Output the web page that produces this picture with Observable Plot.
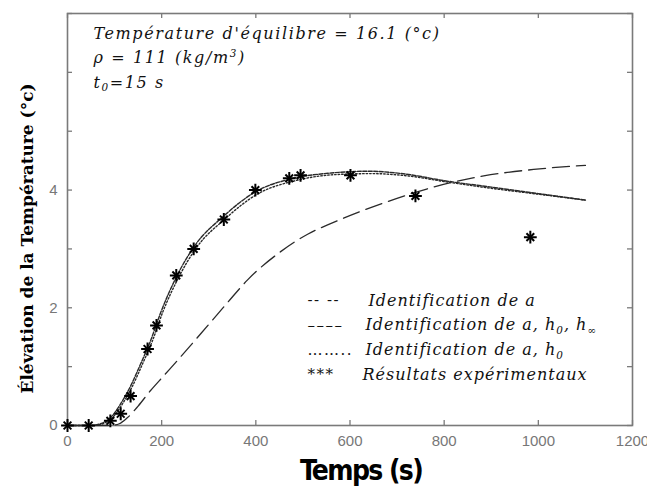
<!DOCTYPE html>
<html>
<head>
<meta charset="utf-8">
<script src="https://cdn.jsdelivr.net/npm/d3@7"></script>
<script src="https://cdn.jsdelivr.net/npm/@observablehq/plot@0.6"></script>
<style>
  html, body { margin: 0; padding: 0; background: #fff; }
  #chart { width: 647px; height: 490px; }
</style>
</head>
<body>
<div id="chart"></div>
<script>
// Résultats expérimentaux (temps en s, élévation en °c)
const tempsExp = [0, 45, 91, 113, 134, 170, 189, 231, 268, 332, 399, 471, 495, 601, 739, 983];
const elevExp  = [0, 0, 0.08, 0.2, 0.5, 1.3, 1.7, 2.55, 3.0, 3.5, 4.0, 4.2, 4.25, 4.25, 3.9, 3.2];

// Identification de a
const tempsA = [0, 50, 70, 91, 113, 134, 155, 176, 198, 231, 268, 332, 399, 480, 560, 640, 720, 800, 900, 1000, 1100];
const elevA  = [0, 0, 0.03, 0.13, 0.37, 0.67, 1.04, 1.43, 1.92, 2.52, 3.03, 3.56, 3.97, 4.2, 4.29, 4.32, 4.27, 4.16, 4.05, 3.94, 3.83];

// Identification de a, h0
const tempsC = [0, 55, 75, 95, 117, 138, 159, 180, 202, 235, 272, 336, 403, 484, 564, 644, 724, 804, 900, 1000, 1100];
const elevC  = [0, 0, 0.03, 0.13, 0.37, 0.67, 1.04, 1.43, 1.92, 2.5, 3.0, 3.52, 3.93, 4.16, 4.26, 4.28, 4.24, 4.14, 4.03, 3.93, 3.83];

// Identification de a, h0, h∞
const tempsB = [0, 90, 110, 127, 150, 176, 205, 233, 282, 339, 382, 452, 510, 565, 671, 777, 884, 990, 1100];
const elevB  = [0, 0, 0.03, 0.13, 0.33, 0.59, 0.85, 1.1, 1.55, 2.08, 2.47, 2.95, 3.25, 3.45, 3.78, 4.05, 4.24, 4.35, 4.42];

// Axes
const xTicks = [0, 200, 400, 600, 800, 1000, 1200];
const yTicks = [0, 1, 2, 3, 4, 5, 6, 7];
const yLabels = [0, 2, 4];
const xDomain = [0, 1200];
const yDomain = [0, 7];

// Textes
const annotations = ["Température d'équilibre = 16.1 (°c)", "ρ = 111 (kg/m^{3})", "t_{0}=15 s"];
const legendSymbols = ["-- --", "––––", "……..", "***"];
const legendTexts = ["Identification de a", "Identification de a, h_{0}, h_{∞}", "Identification de a, h_{0}", "Résultats expérimentaux"];
const xTitle = "Temps (s)";
const yTitle = "Élévation de la Température (°c)";

const zip = (xs, ys) => xs.map((x, i) => ({x, y: ys[i]}));
const exp = zip(tempsExp, elevExp);
const curveA = zip(tempsA, elevA);
const curveB = zip(tempsB, elevB);
const curveC = zip(tempsC, elevC);

const W = 647, H = 490;
const mL = 67, mR = 15, mT = 13, mB = 65;
// inward tick length, in data units (~5 px)
const tickY = (yDomain[1] - yDomain[0]) * 5 / (H - mT - mB);
const tickX = (xDomain[1] - xDomain[0]) * 5 / (W - mL - mR);

const serif = "'DejaVu Serif', 'Liberation Serif', serif";
const lineColor = "#2a2a2a";
const frameColor = "#7a7a7a";

// letter spacing per text (Plot has no option for it; applied after rendering)
const spacing = new Map();

// one text mark per line of a block placed in the frame's top-left corner
const block = (lines, dx, dy0, step, ls, opts) => lines.map((s, i) => {
  spacing.set(s, ls);
  return Plot.text([s], {frameAnchor: "top-left", dx: typeof dx === "number" ? dx : dx[i], dy: dy0 + i * step,
    text: d => d, lineAnchor: "middle", textAnchor: "start", fill: "#111", fontFamily: serif, ...opts});
});
spacing.set(xTitle, -1.6);

const plot = Plot.plot({
  width: W,
  height: H,
  marginLeft: mL,
  marginRight: mR,
  marginTop: mT,
  marginBottom: mB,
  style: {background: "#fff", fontFamily: "'Liberation Sans', Arial, sans-serif", overflow: "visible"},
  x: {domain: xDomain, axis: null},
  y: {domain: yDomain, axis: null},
  marks: [
    // tick labels
    Plot.text(xTicks, {x: d => d, frameAnchor: "bottom", dy: 16, text: d => String(d), fill: "#777", fontSize: 15, lineAnchor: "middle"}),
    Plot.text(yLabels, {y: d => d, frameAnchor: "left", dx: -10, text: d => String(d), fill: "#777", fontSize: 15, textAnchor: "end"}),
    // inward ticks on all four sides
    Plot.ruleX(xTicks, {x: d => d, y1: yDomain[0], y2: yDomain[0] + tickY, stroke: frameColor, strokeWidth: 1.3}),
    Plot.ruleX(xTicks, {x: d => d, y1: yDomain[1], y2: yDomain[1] - tickY, stroke: frameColor, strokeWidth: 1.3}),
    Plot.ruleY(yTicks, {y: d => d, x1: xDomain[0], x2: xDomain[0] + tickX, stroke: frameColor, strokeWidth: 1.3}),
    Plot.ruleY(yTicks, {y: d => d, x1: xDomain[1], x2: xDomain[1] - tickX, stroke: frameColor, strokeWidth: 1.3}),
    Plot.frame({stroke: frameColor, strokeWidth: 1.6}),
    // model curves
    Plot.line(curveB, {x: "x", y: "y", curve: "monotone-x", stroke: lineColor, strokeWidth: 1.3, strokeDasharray: "17,7"}),
    Plot.line(curveC, {x: "x", y: "y", curve: "monotone-x", stroke: lineColor, strokeWidth: 1.4, strokeDasharray: "1.5,2"}),
    Plot.line(curveA, {x: "x", y: "y", curve: "monotone-x", stroke: lineColor, strokeWidth: 1.4, strokeDasharray: "4,1.5"}),
    // experimental points (MATLAB-style star)
    Plot.dot(exp, {x: "x", y: "y", symbol: "plus", r: 4.2, stroke: "#000", strokeWidth: 2}),
    Plot.dot(exp, {x: "x", y: "y", symbol: "times", r: 3.6, stroke: "#000", strokeWidth: 2}),
    // annotation block
    ...block(annotations, 26, 20, 24.5, 1.6, {fontSize: 16, fontStyle: "italic"}),
    // legend
    ...block(legendSymbols, 240, 287, 24.7, 1.5, {fontSize: 15}),
    ...block(legendTexts, [301, 298, 298, 295], 287, 24.7, 1.0, {fontSize: 16, fontStyle: "italic"}),
    // axis titles
    Plot.text([xTitle], {frameAnchor: "bottom", dx: 11, dy: 46, text: d => d, fill: "#000", fontSize: 28, fontWeight: "bold", fontFamily: "'DejaVu Sans Condensed', 'DejaVu Sans', sans-serif", lineAnchor: "middle", textAnchor: "middle"}),
    Plot.text([yTitle], {frameAnchor: "left", dx: -40, dy: 19, rotate: -90, text: d => d, fill: "#000", fontSize: 17, fontWeight: "bold", fontFamily: serif, lineAnchor: "middle", textAnchor: "middle"})
  ]
});

const ns = "http://www.w3.org/2000/svg";
plot.querySelectorAll("text").forEach(t => {
  const s = t.textContent;
  if (spacing.has(s)) t.style.letterSpacing = spacing.get(s) + "px";
  // render _{..} and ^{..} as sub/superscripts
  if (!/[_^]\{/.test(s)) return;
  t.textContent = "";
  const re = /([_^])\{([^}]*)\}/g;
  let last = 0, m, shifted = 0;
  const add = (txt, mode) => {
    if (!txt) return;
    const sp = document.createElementNS(ns, "tspan");
    sp.textContent = txt;
    if (mode) {
      sp.setAttribute("font-size", "65%");
      const off = mode === "_" ? 0.35 : -0.55;
      sp.setAttribute("dy", (off - shifted) + "em");
      shifted = off;
    } else if (shifted) {
      sp.setAttribute("dy", (-shifted * 0.65) + "em");
      shifted = 0;
    }
    t.appendChild(sp);
  };
  while ((m = re.exec(s))) {
    add(s.slice(last, m.index), null);
    add(m[2], m[1]);
    last = re.lastIndex;
  }
  add(s.slice(last), null);
});

document.getElementById("chart").appendChild(plot);
</script>
</body>
</html>
